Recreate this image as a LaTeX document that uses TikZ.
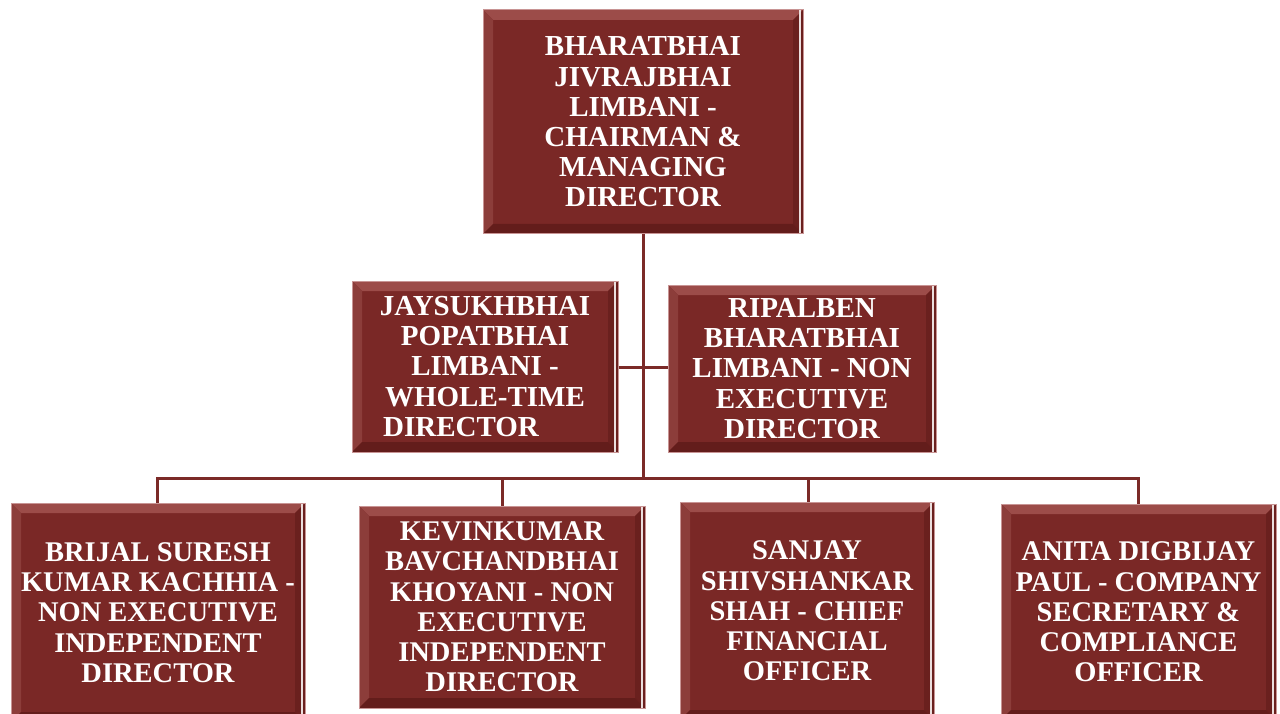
\documentclass[tikz,border=0pt]{standalone}
\usepackage{fontspec}
\setmainfont{Liberation Serif}
\usetikzlibrary{calc}
\definecolor{boxfill}{HTML}{7A2826}
\definecolor{bevtop}{HTML}{9C4C49}
\definecolor{bevleft}{HTML}{8C3D3A}
\definecolor{bevright}{HTML}{6A201E}
\definecolor{bevbottom}{HTML}{631D1B}
\definecolor{boxedge}{HTML}{C89494}
\definecolor{linkcol}{HTML}{7B2A28}
\tikzset{
  x=1pt, y=1pt,
  orgbox/.style={draw=boxedge, line width=1pt, fill=boxfill, text=white,
    align=center, inner sep=0pt,
    path picture={
      \coordinate (pnw) at (path picture bounding box.north west);
      \coordinate (pne) at (path picture bounding box.north east);
      \coordinate (psw) at (path picture bounding box.south west);
      \coordinate (pse) at (path picture bounding box.south east);
      \fill[bevtop] (pnw) -- (pne) -- ($(pne)+(-10,-10)$) -- ($(pnw)+(10,-10)$) -- cycle;
      \fill[bevleft] (pnw) -- ($(pnw)+(10,-10)$) -- ($(psw)+(10,10)$) -- (psw) -- cycle;
      \fill[bevright] (pne) -- (pse) -- ($(pse)+(-10,10)$) -- ($(pne)+(-10,-10)$) -- cycle;
      \fill[bevbottom] (psw) -- (pse) -- ($(pse)+(-10,10)$) -- ($(psw)+(10,10)$) -- cycle;
      \fill[white!85!boxfill] ($(pne)+(-4,0)$) rectangle ($(pse)+(-2,0)$);
    }},
  bigfont/.style={font=\fontsize{29}{30.2}\selectfont\bfseries},
  smallfont/.style={font=\fontsize{28.5}{30.2}\selectfont\bfseries},
  link/.style={draw=linkcol, line width=3pt}
}
\begin{document}
\begin{tikzpicture}
\useasboundingbox (0,0) rectangle (1280,-714);

\node[orgbox, bigfont, minimum width=320, minimum height=224] (top) at (643,-122)
  {BHARATBHAI\\JIVRAJBHAI\\LIMBANI -\\CHAIRMAN \&\\MANAGING\\DIRECTOR};

\node[orgbox, bigfont, minimum width=266, minimum height=171] (jay) at (485,-366.5)
  {JAYSUKHBHAI\\POPATBHAI\\LIMBANI -\\WHOLE-TIME\\DIRECTOR\rule{48pt}{0pt}};

\node[orgbox, bigfont, minimum width=268, minimum height=167] (rip) at (802,-368.5)
  {RIPALBEN\\BHARATBHAI\\LIMBANI - NON\\EXECUTIVE\\DIRECTOR};

\node[orgbox, smallfont, minimum width=294, minimum height=219] (bri) at (158,-612.5)
  {BRIJAL SURESH\\KUMAR KACHHIA -\\NON EXECUTIVE\\INDEPENDENT\\DIRECTOR};

\node[orgbox, smallfont, minimum width=286, minimum height=202] (kev) at (502,-607)
  {KEVINKUMAR\\BAVCHANDBHAI\\KHOYANI - NON\\EXECUTIVE\\INDEPENDENT\\DIRECTOR};

\node[orgbox, smallfont, minimum width=254, minimum height=218] (san) at (807,-611)
  {SANJAY\\SHIVSHANKAR\\SHAH - CHIEF\\FINANCIAL\\OFFICER};

\node[orgbox, smallfont, minimum width=275, minimum height=216] (ani) at (1138.5,-612)
  {ANITA DIGBIJAY\\PAUL - COMPANY\\SECRETARY \&\\COMPLIANCE\\OFFICER};

\coordinate (bus) at (643,-478);
\coordinate (sidey) at (643,-367.5);

\draw[link] (top.south) -- (bus);
\draw[link] (jay.east |- sidey) -- (sidey);
\draw[link] (rip.west |- sidey) -- (sidey);
\draw[link] (bri.north -| 157,0) |- (bus) -| (ani.north);
\draw[link] (kev.north) -- (kev.north |- bus);
\draw[link] (san.north -| 808,0) -- (bus -| 808,0);
\end{tikzpicture}
\end{document}
